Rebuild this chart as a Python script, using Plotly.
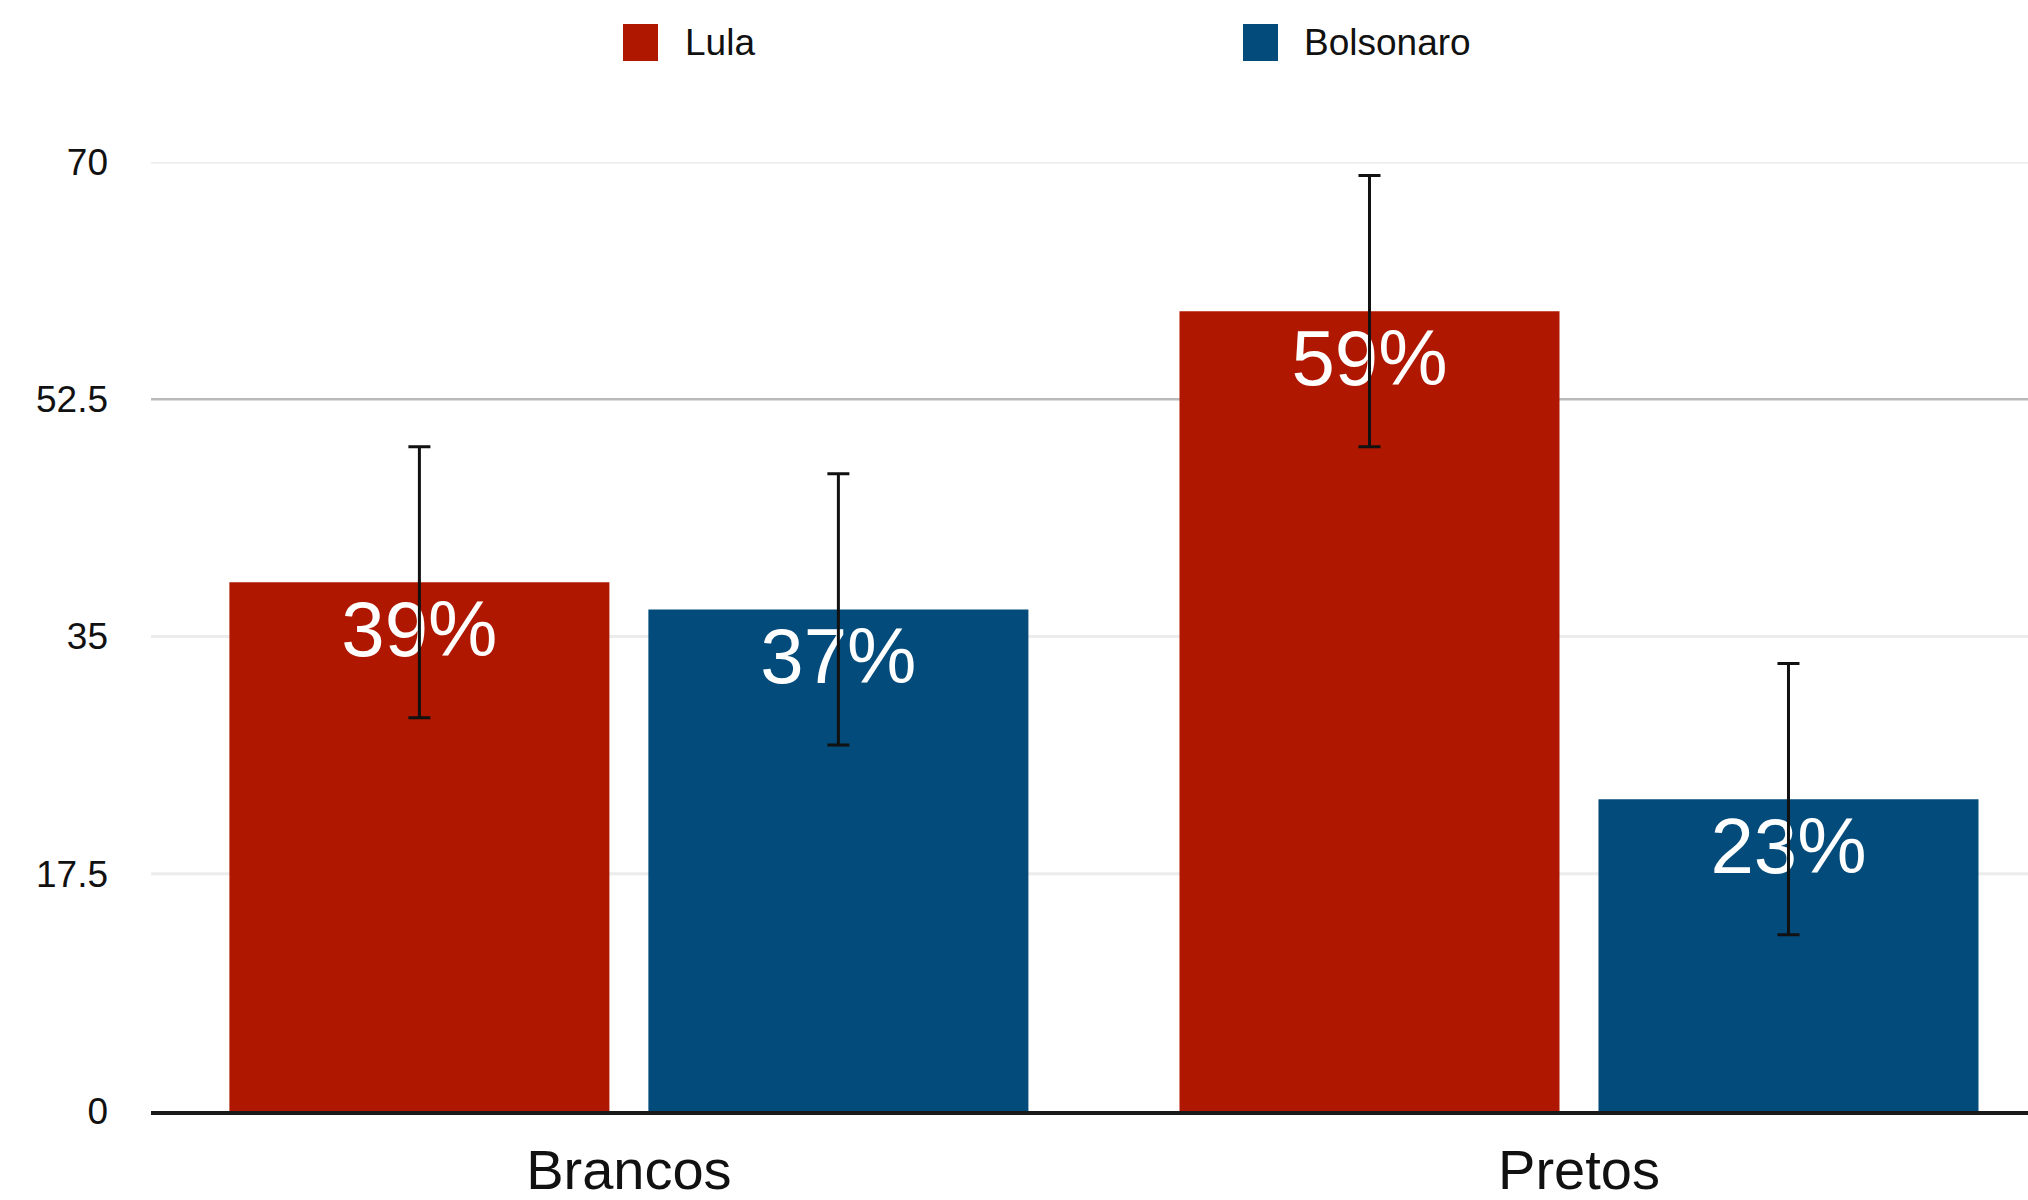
import plotly.graph_objects as go

categories = ["Brancos", "Pretos"]
lula_values = [39, 59]
bolsonaro_values = [37, 23]
lula_errors = [10, 10]
bolsonaro_errors = [10, 10]
series_names = ["Lula", "Bolsonaro"]
y_tickvals = [0, 17.5, 35, 52.5, 70]
y_ticktext = ["0", "17.5", "35", "52.5", "70"]

RED = "#B01700"
BLUE = "#034B7B"
FONT = "Liberation Sans, Arial, Helvetica, sans-serif"
GRID_LIGHT = "#ececec"
GRID_DARK = "#bababa"

W, H = 2028, 1200
ML, MR, MT, MB = 151, 0, 162, 89

fig = go.Figure()
for name, vals, errs, col in [
    (series_names[0], lula_values, lula_errors, RED),
    (series_names[1], bolsonaro_values, bolsonaro_errors, BLUE),
]:
    fig.add_trace(go.Bar(
        name=name, x=categories, y=vals,
        marker=dict(color=col, line=dict(width=0)),
        error_y=dict(type="data", array=errs, visible=True, color="#111111",
                     thickness=3, width=11),
        texttemplate="%{y}%", textposition="inside", insidetextanchor="end",
        textangle=0, constraintext="none",
        textfont=dict(family=FONT, size=78, color="white"),
        showlegend=False,
    ))

# gridlines (the 52.5 one is darker in the reference)
for v in y_tickvals[1:]:
    dark = (v == y_tickvals[3])
    fig.add_shape(type="line", xref="paper", x0=0, x1=1, yref="y", y0=v, y1=v,
                  line=dict(color=GRID_DARK if dark else GRID_LIGHT,
                            width=2.5 if dark else 3),
                  layer="below")

# custom legend
pw = W - ML - MR
ph = H - MT - MB
def px_x(p):
    return (p - ML) / pw
def px_y(p):
    return (H - MB - p) / ph

legend_items = [(series_names[0], RED, 623, 683), (series_names[1], BLUE, 1243, 1302)]
for name, col, sx, tx in legend_items:
    fig.add_shape(type="rect", xref="paper", yref="paper",
                  x0=px_x(sx), x1=px_x(sx + 35), y0=px_y(61), y1=px_y(24),
                  fillcolor=col, line=dict(width=0))
    fig.add_annotation(xref="paper", yref="paper", x=px_x(tx), y=px_y(43),
                       text=name, showarrow=False, xanchor="left", yanchor="middle",
                       font=dict(family=FONT, size=37, color="#111111"))

fig.update_layout(
    width=W, height=H,
    margin=dict(l=ML, r=MR, t=MT, b=MB, pad=0),
    paper_bgcolor="white", plot_bgcolor="rgba(0,0,0,0)",
    barmode="group", bargap=0.118, bargroupgap=0.093,
    font=dict(family=FONT, color="#111111"),
    showlegend=False,
)
fig.update_xaxes(
    range=[-0.503, 1.4726], showgrid=False, zeroline=False,
    showline=True, linecolor="#1a1a1a", linewidth=3.5,
    ticks="", ticklabelstandoff=7, automargin=False,
    tickfont=dict(family=FONT, size=56, color="#111111"),
)
fig.update_yaxes(
    range=[0, 70], tickvals=y_tickvals, ticktext=y_ticktext,
    showgrid=False,
    zeroline=False, showline=False, ticks="", ticklabelstandoff=42,
    automargin=False,
    tickfont=dict(family=FONT, size=37, color="#111111"),
)

fig.write_html(
    "out.html",
    config={"displayModeBar": False},
    post_script="document.body.style.margin='0';document.body.style.overflow='hidden';",
)
